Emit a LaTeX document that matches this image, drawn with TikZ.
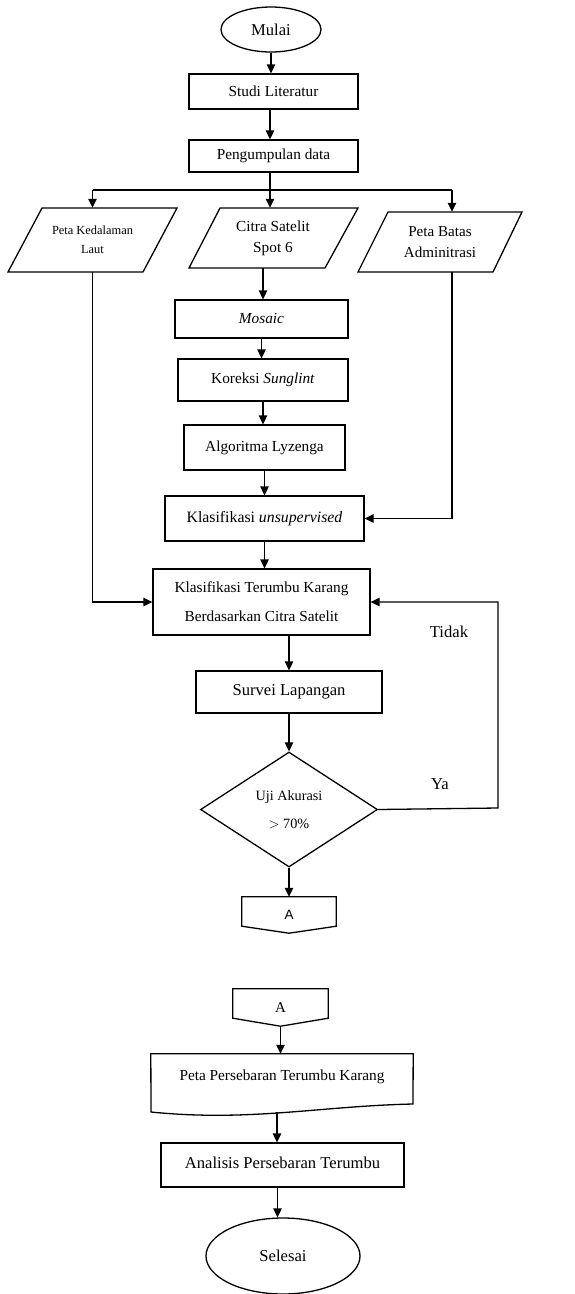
\documentclass[tikz,border=0pt]{standalone}
\usepackage{fontspec}
\setmainfont{Liberation Serif}
\newfontfamily\sansA{Liberation Sans}
\usetikzlibrary{shapes.geometric,arrows.meta}
\newcommand\mfs{\fontsize{15.3}{18}\selectfont}
\newcommand\bfsz{\fontsize{16.6}{19}\selectfont}
\begin{document}
\begin{tikzpicture}[x=1pt,y=-1pt,
  ln/.style={line width=1.3pt},
  arr/.style={line width=1.3pt,-{Triangle[length=9pt,width=8.5pt]}},
  box/.style={draw,line width=1.3pt,inner sep=0pt,font=\mfs},
  txt/.style={inner sep=0pt,font=\mfs}]
\useasboundingbox (0,0) rectangle (575,1294);

% terminals and process boxes
\node[box,ellipse,minimum width=100pt,minimum height=45pt,font=\bfsz] (mulai) at (271,29.5) {Mulai};
\node[box,minimum width=169pt,minimum height=35pt] (studi) at (273.5,91.5) {Studi Literatur};
\node[box,minimum width=169pt,minimum height=32pt] (peng) at (273.5,156) {Pengumpulan data};

% data inputs (parallelograms)
\draw[ln] (42,208) -- (177,208) -- (143,272) -- (8,272) -- cycle;
\draw[ln] (220,208) -- (358,208) -- (325,268) -- (189,268) -- cycle;
\draw[ln] (388,212) -- (522,212) -- (493,272) -- (358,272) -- cycle;
\node[txt,align=center,minimum height=64pt,font=\fontsize{12.4}{19}\selectfont] (pk) at (92.5,240) {Peta Kedalaman\\Laut};
\node[txt,align=center,minimum height=60pt,font=\fontsize{15.3}{21}\selectfont] (cs) at (273,238) {Citra Satelit\\Spot 6};
\node[txt,align=center,minimum height=60pt,font=\fontsize{15.1}{21}\selectfont] (pb) at (440,242) {Peta Batas\\Adminitrasi};
\coordinate (pbin) at ([xshift=12pt]pb.north);
\coordinate (pbout) at ([xshift=12pt]pb.south);
\coordinate (csout) at ([xshift=-10pt]cs.south);
\coordinate (split) at (270,190);

\node[box,minimum width=173pt,minimum height=38pt] (mo) at (261.5,319) {\textit{Mosaic}};
\node[box,minimum width=170pt,minimum height=42pt] (ko) at (263,380) {Koreksi \textit{Sunglint}};
\node[box,minimum width=161pt,minimum height=45pt] (al) at (264.5,447.5) {Algoritma Lyzenga};
\node[box,minimum width=199pt,minimum height=45pt,font=\fontsize{15.8}{18}\selectfont] (ku) at (264.5,518.5) {Klasifikasi \textit{unsupervised}\hspace{20pt}};
\node[box,minimum width=217pt,minimum height=66pt,align=center,font=\fontsize{15.3}{29}\selectfont] (kt) at (261.5,602) {Klasifikasi Terumbu Karang\\Berdasarkan Citra Satelit};
\node[box,minimum width=186pt,minimum height=42pt,font=\bfsz] (sv) at (289,692) {Survei Lapangan};
\node[box,diamond,aspect=1.54,minimum width=177pt,minimum height=115pt,align=center,font=\fontsize{14.2}{28}\selectfont] (dia) at (289,809.5) {Uji Akurasi\\$>$ 70\%};
\coordinate (fb) at (498,808);

% off-page connectors
\node[txt,minimum width=94pt,minimum height=36pt,font=\sansA\fontsize{13.5}{16}\selectfont] (a1) at (289,915) {A};
\draw[ln] (a1.north west) -- (a1.north east) -- ([yshift=7pt]a1.south east) -- (a1.south) -- ([yshift=7pt]a1.south west) -- cycle;
\node[txt,minimum width=95pt,minimum height=37pt,font=\fontsize{15}{18}\selectfont] (a2) at (280.5,1007.5) {A};
\draw[ln] (a2.north west) -- (a2.north east) -- ([yshift=8pt]a2.south east) -- (a2.south) -- ([yshift=8pt]a2.south west) -- cycle;

% document
\node[txt,minimum width=262pt,minimum height=46pt] (doc) at (282,1077) {Peta Persebaran Terumbu Karang};
\draw[ln] (doc.north west) -- (doc.north east) -- (413,1104) .. controls (320,1106) and (250,1122) .. (151,1112) -- cycle;
\coordinate (docb) at ([xshift=-5pt,yshift=-12pt]doc.south);

\node[box,minimum width=243pt,minimum height=44pt,font=\bfsz] (an) at (282.5,1165) {\raisebox{4pt}{Analisis Persebaran Terumbu}};
\coordinate (anout) at ([xshift=-5pt]an.south);
\node[box,ellipse,minimum width=154pt,minimum height=76pt,font=\bfsz] (sel) at (283,1256) {Selesai};

% connectors
\draw[arr] (mulai.south) -- (mulai.south |- studi.north);
\draw[arr] (split |- studi.south) -- (split |- peng.north);
\draw[ln] (split |- peng.south) -- (split);
\draw[ln] (pk.north |- split) -- (pbin |- split);
\draw[arr] (pk.north |- split) -- (pk.north);
\draw[arr] (split) -- (split |- cs.north);
\draw[arr] (pbin |- split) -- (pbin);
\draw[arr] (csout) -- (csout |- mo.north);
\draw[arr] (mo.south) -- (mo.south |- ko.north);
\draw[arr] (ko.south) -- (ko.south |- al.north);
\draw[arr] (al.south) -- (al.south |- ku.north);
\draw[arr] (ku.south) -- (ku.south |- kt.north);
\draw[arr] (pk.south) |- (kt.west);
\draw[arr] (pbout) |- (ku.east);
\draw[arr] (sv.north |- kt.south) -- (sv.north);
\draw[arr] (sv.south) -- (dia.north);
\draw[arr] (dia.south) -- (a1.north);
\draw[arr] (dia.east) -- (fb) |- (kt.east);
\draw[arr] (a2.south) -- (a2.south |- doc.north);
\draw[arr] (docb) -- (docb |- an.north);
\draw[arr] (anout) -- (anout |- sel.north);

% labels
\node[txt,font=\bfsz] (tidak) at (449,632) {Tidak};
\node[txt,font=\bfsz] (ya) at (440,784) {Ya};
\end{tikzpicture}
\end{document}
